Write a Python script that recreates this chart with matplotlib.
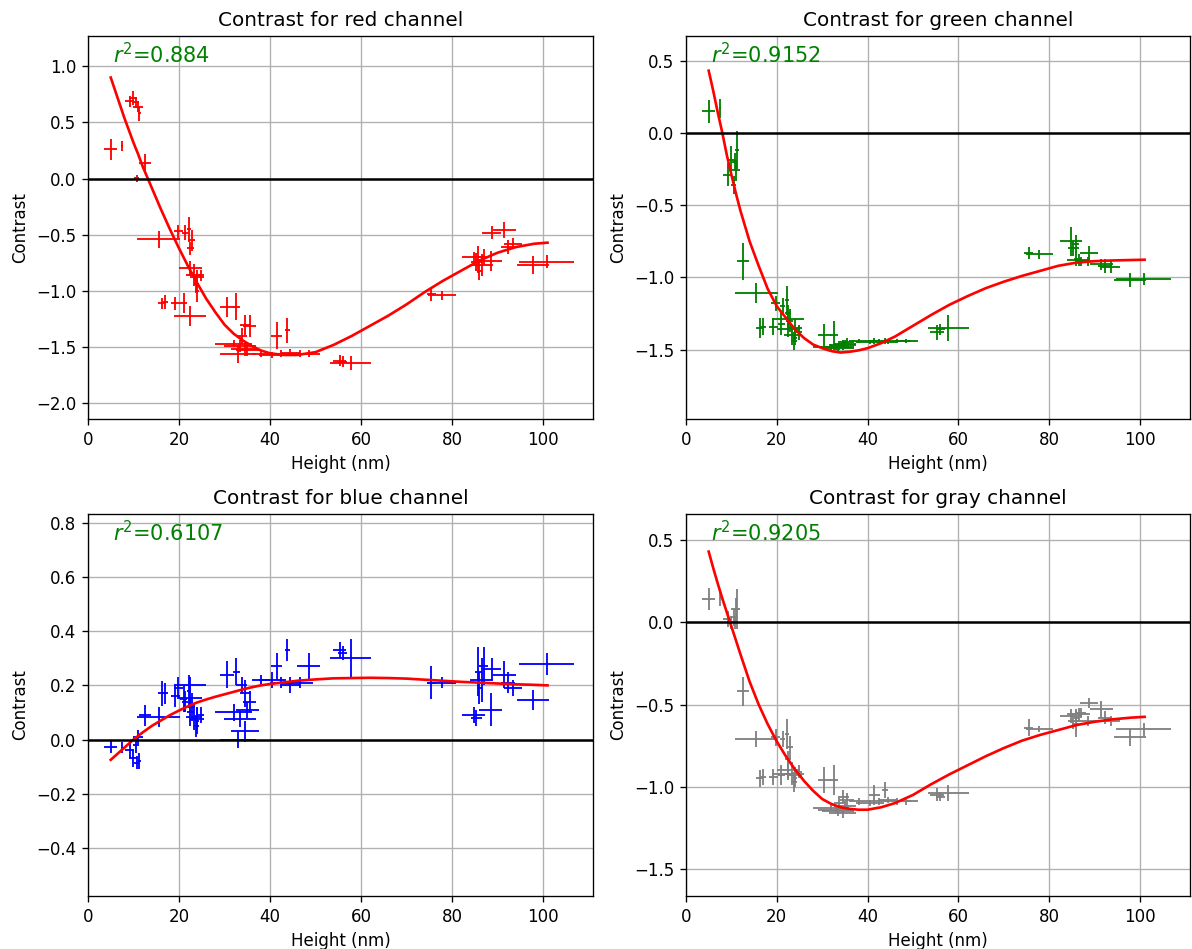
import matplotlib
matplotlib.use("Agg")
import matplotlib.pyplot as plt

# ---------------- data ----------------
heights = [5.0, 7.5, 9.2, 9.9, 10.5, 11.0, 11.3, 12.5, 10.7, 15.5,
           19.8, 21.3, 22.2, 22.8, 22.5, 22.5, 23.3, 24.0, 24.8, 23.8,
           24.0, 16.2, 17.0, 19.2, 21.0, 22.5, 30.5, 32.6, 34.6, 35.5,
           33.8, 32.0, 33.5, 34.5, 33.0, 35.0, 41.5, 43.8, 38.0, 40.5,
           42.5, 44.5, 46.5, 48.5, 55.3, 56.0, 57.8, 75.5, 77.8, 84.8,
           85.3, 85.8, 86.5, 87.0, 88.5, 86.0, 88.7, 91.5, 92.3, 93.5,
           97.8, 100.8]
height_err = [1.4, 0.3, 1.0, 0.8, 0.6, 1.0, 0.4, 1.3, 0.5, 4.75,
              1.0, 0.6, 0.5, 0.8, 0.7, 2.5, 1.8, 1.5, 0.8, 0.6,
              0.5, 0.8, 0.6, 1.0, 0.7, 3.5, 1.5, 0.8, 1.2, 1.5,
              1.2, 4.0, 3.5, 3.0, 4.0, 2.5, 1.2, 0.6, 2.0, 3.0,
              2.5, 2.0, 3.0, 2.5, 1.5, 1.0, 4.5, 1.0, 3.0, 2.5,
              1.2, 0.8, 2.5, 1.0, 2.5, 0.5, 2.0, 2.5, 1.5, 2.0,
              3.5, 6.0]

red_contrast = [0.26, 0.29, 0.69, 0.72, 0.68, 0.64, 0.58, 0.135, 0.003, -0.54,
                -0.47, -0.48, -0.45, -0.55, -0.62, -0.80, -0.86, -0.88, -0.86, -0.94,
                -1.00, -1.11, -1.10, -1.11, -1.11, -1.22, -1.14, -1.14, -1.30, -1.31,
                -1.40, -1.47, -1.49, -1.52, -1.56, -1.53, -1.40, -1.35, -1.56, -1.57,
                -1.56, -1.55, -1.56, -1.56, -1.62, -1.63, -1.64, -1.03, -1.04, -0.70,
                -0.74, -0.72, -0.77, -0.70, -0.73, -0.82, -0.48, -0.46, -0.61, -0.58,
                -0.77, -0.74]
red_err = [0.09, 0.045, 0.05, 0.06, 0.05, 0.05, 0.07, 0.08, 0.03, 0.074,
           0.06, 0.07, 0.11, 0.09, 0.06, 0.07, 0.10, 0.07, 0.05, 0.08,
           0.10, 0.05, 0.06, 0.06, 0.09, 0.09, 0.09, 0.12, 0.09, 0.10,
           0.07, 0.03, 0.05, 0.06, 0.08, 0.05, 0.12, 0.11, 0.03, 0.03,
           0.03, 0.03, 0.03, 0.03, 0.05, 0.05, 0.06, 0.06, 0.04, 0.05,
           0.08, 0.12, 0.10, 0.07, 0.09, 0.08, 0.06, 0.07, 0.06, 0.05,
           0.08, 0.06]

green_contrast = [0.15, 0.17, -0.29, -0.19, -0.36, -0.26, -0.12, -0.89, -0.20, -1.11,
                  -1.18, -1.20, -1.16, -1.30, -1.25, -1.36, -1.40, -1.35, -1.38, -1.44,
                  -1.42, -1.35, -1.34, -1.34, -1.32, -1.29, -1.40, -1.40, -1.46, -1.45,
                  -1.47, -1.48, -1.49, -1.47, -1.48, -1.46, -1.44, -1.44, -1.44, -1.445,
                  -1.44, -1.445, -1.44, -1.44, -1.38, -1.36, -1.35, -0.83, -0.84, -0.75,
                  -0.80, -0.77, -0.88, -0.89, -0.89, -0.87, -0.83, -0.91, -0.92, -0.93,
                  -1.02, -1.01]
green_err = [0.08, 0.065, 0.08, 0.10, 0.06, 0.07, 0.13, 0.13, 0.06, 0.07,
             0.05, 0.06, 0.10, 0.08, 0.06, 0.05, 0.07, 0.06, 0.05, 0.06,
             0.05, 0.07, 0.06, 0.06, 0.08, 0.05, 0.08, 0.10, 0.03, 0.03,
             0.03, 0.02, 0.03, 0.03, 0.02, 0.03, 0.02, 0.02, 0.015, 0.015,
             0.015, 0.015, 0.015, 0.015, 0.05, 0.04, 0.09, 0.04, 0.03, 0.10,
             0.05, 0.06, 0.04, 0.03, 0.03, 0.05, 0.05, 0.04, 0.05, 0.04,
             0.05, 0.04]

blue_contrast = [-0.026, -0.03, -0.04, -0.07, -0.02, 0.01, -0.08, 0.089, -0.085, 0.083,
                 0.19, 0.14, 0.18, 0.12, 0.10, 0.155, 0.085, 0.075, 0.09, 0.05,
                 0.07, 0.17, 0.17, 0.16, 0.15, 0.20, 0.24, 0.25, 0.17, 0.14,
                 0.20, 0.10, 0.075, 0.03, 0.0, 0.11, 0.27, 0.33, 0.22, 0.22,
                 0.21, 0.20, 0.21, 0.27, 0.33, 0.32, 0.30, 0.21, 0.21, 0.09,
                 0.08, 0.25, 0.22, 0.27, 0.11, 0.19, 0.26, 0.24, 0.21, 0.19,
                 0.145, 0.28]
blue_err = [0.022, 0.02, 0.03, 0.03, 0.03, 0.025, 0.03, 0.04, 0.025, 0.037,
            0.04, 0.04, 0.06, 0.05, 0.05, 0.04, 0.05, 0.04, 0.03, 0.04,
            0.05, 0.045, 0.04, 0.04, 0.05, 0.03, 0.05, 0.05, 0.05, 0.04,
            0.03, 0.03, 0.03, 0.04, 0.03, 0.03, 0.05, 0.04, 0.02, 0.03,
            0.02, 0.03, 0.02, 0.05, 0.03, 0.025, 0.07, 0.06, 0.02, 0.03,
            0.03, 0.09, 0.08, 0.07, 0.06, 0.06, 0.04, 0.05, 0.04, 0.03,
            0.037, 0.04]

gray_contrast = [0.14, 0.15, 0.02, 0.0, 0.03, 0.08, 0.08, -0.42, 0.0, -0.71,
                 -0.70, -0.71, -0.68, -0.76, -0.83, -0.90, -0.92, -0.93, -0.91, -0.97,
                 -0.95, -0.95, -0.94, -0.94, -0.93, -0.92, -0.96, -0.96, -1.06, -1.08,
                 -1.10, -1.13, -1.15, -1.16, -1.14, -1.12, -1.05, -1.02, -1.09, -1.10,
                 -1.09, -1.08, -1.09, -1.09, -1.05, -1.06, -1.04, -0.64, -0.65, -0.57,
                 -0.60, -0.62, -0.56, -0.55, -0.60, -0.58, -0.49, -0.53, -0.58, -0.60,
                 -0.70, -0.65]
gray_err = [0.067, 0.05, 0.05, 0.04, 0.05, 0.07, 0.12, 0.09, 0.04, 0.05,
            0.05, 0.05, 0.09, 0.07, 0.05, 0.05, 0.07, 0.05, 0.04, 0.06,
            0.05, 0.05, 0.05, 0.05, 0.06, 0.04, 0.08, 0.09, 0.04, 0.04,
            0.03, 0.02, 0.03, 0.03, 0.02, 0.03, 0.06, 0.05, 0.02, 0.02,
            0.02, 0.02, 0.02, 0.02, 0.04, 0.03, 0.05, 0.05, 0.02, 0.04,
            0.05, 0.08, 0.04, 0.03, 0.03, 0.05, 0.03, 0.05, 0.04, 0.03,
            0.05, 0.04]

# fitted curves
fit_height = [5, 6, 7, 8, 9, 10, 11, 12, 14, 16, 18, 20, 22, 24, 26, 28, 30, 32, 34,
              36, 38, 40, 43, 46, 50, 54, 58, 62, 66, 70, 74, 78, 82, 86, 90, 94, 98, 101]
red_fit = [0.90, 0.78, 0.66, 0.54, 0.43, 0.32, 0.22, 0.11, -0.08, -0.27, -0.45, -0.62,
           -0.78, -0.93, -1.07, -1.19, -1.30, -1.38, -1.44, -1.49, -1.53, -1.555, -1.57,
           -1.57, -1.545, -1.48, -1.40, -1.31, -1.22, -1.12, -1.01, -0.91, -0.82, -0.73,
           -0.66, -0.61, -0.58, -0.57]
green_fit = [0.43, 0.29, 0.14, 0.0, -0.155, -0.29, -0.42, -0.54, -0.75, -0.92, -1.08,
             -1.20, -1.28, -1.36, -1.42, -1.465, -1.49, -1.51, -1.52, -1.515, -1.505,
             -1.49, -1.455, -1.41, -1.335, -1.26, -1.19, -1.13, -1.075, -1.03, -0.99,
             -0.955, -0.92, -0.898, -0.888, -0.883, -0.88, -0.878]
blue_fit = [-0.075, -0.06, -0.045, -0.03, -0.015, 0.0, 0.013, 0.026, 0.05, 0.07, 0.09,
            0.107, 0.123, 0.137, 0.148, 0.158, 0.167, 0.176, 0.185, 0.193, 0.2, 0.205,
            0.211, 0.217, 0.222, 0.226, 0.227, 0.228, 0.227, 0.225, 0.221, 0.217, 0.213,
            0.21, 0.207, 0.204, 0.202, 0.2]
gray_fit = [0.43, 0.33, 0.235, 0.145, 0.06, -0.025, -0.11, -0.195, -0.36, -0.50, -0.62,
            -0.725, -0.815, -0.895, -0.965, -1.025, -1.075, -1.105, -1.125, -1.135, -1.14,
            -1.14, -1.125, -1.10, -1.05, -0.985, -0.925, -0.87, -0.815, -0.765, -0.72,
            -0.685, -0.655, -0.625, -0.605, -0.59, -0.58, -0.575]

channels = ["red", "green", "blue", "gray"]
colors = ["red", "green", "blue", "gray"]
r2_values = ["0.884", "0.9152", "0.6107", "0.9205"]
contrasts = [red_contrast, green_contrast, blue_contrast, gray_contrast]
contrast_errs = [red_err, green_err, blue_err, gray_err]
fits = [red_fit, green_fit, blue_fit, gray_fit]
ylims = [(-2.14, 1.27), (-1.98, 0.67), (-0.578, 0.833), (-1.665, 0.659)]

# ---------------- figure ----------------
W, H = 1192, 949
dpi = 120
fig = plt.figure(figsize=(W / dpi, H / dpi), dpi=dpi)

rects = [
    (88, 36, 593, 419),
    (686, 36, 1190, 419),
    (88, 514, 593, 896),
    (686, 514, 1190, 896),
]

for i, ch in enumerate(channels):
    l, t, r, b = rects[i]
    ax = fig.add_axes([l / W, 1 - b / H, (r - l) / W, (b - t) / H])
    ax.grid(True, color="#b0b0b0", linewidth=0.8, zorder=0)
    ax.set_axisbelow(True)
    ax.errorbar(heights, contrasts[i], xerr=height_err, yerr=contrast_errs[i],
                fmt="none", ecolor=colors[i], elinewidth=1.1, capsize=0, zorder=2)
    ax.plot(fit_height, fits[i], color="red", linewidth=1.6, zorder=3)
    ax.axhline(0, color="black", linewidth=1.5, zorder=4)
    ax.set_xlim(0, 111)
    ax.set_ylim(*ylims[i])
    ax.set_xticks([0, 20, 40, 60, 80, 100])
    ax.set_title(f"Contrast for {ch} channel", fontsize=12)
    ax.set_xlabel("Height (nm)")
    ax.set_ylabel("Contrast")
    ax.text(0.05, 0.93, r"$r^2$=" + r2_values[i], transform=ax.transAxes,
            color="green", fontsize=12.5)

fig.savefig("out.png", dpi=dpi)
